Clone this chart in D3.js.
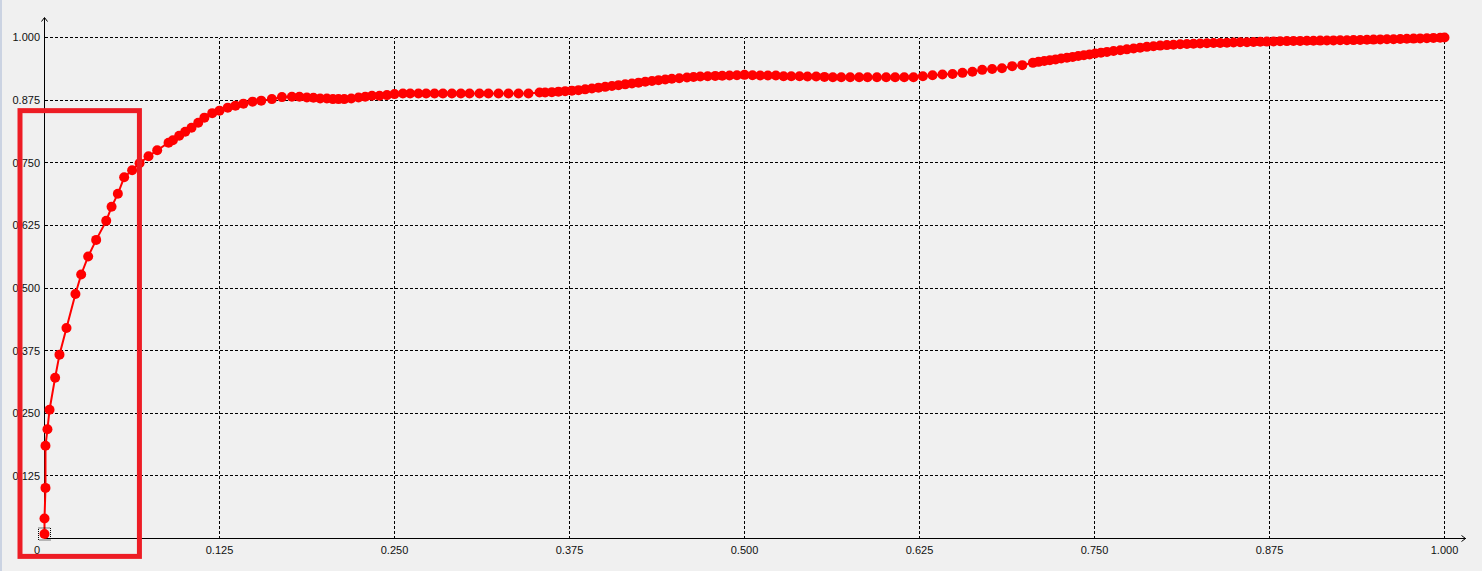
<!DOCTYPE html>
<html><head><meta charset="utf-8">
<script src="https://cdn.jsdelivr.net/npm/d3@7"></script>
<style>html,body{margin:0;padding:0;background:#f0f0f0;overflow:hidden}</style>
</head><body><svg id="c" width="1482" height="571"></svg>
<script>
const xTicks = [0.125, 0.25, 0.375, 0.5, 0.625, 0.75, 0.875, 1.0];
const xTickLabels = ["0.125", "0.250", "0.375", "0.500", "0.625", "0.750", "0.875", "1.000"];
const yTicks = [0.125, 0.25, 0.375, 0.5, 0.625, 0.75, 0.875, 1.0];
const yTickLabels = ["0.125", "0.250", "0.375", "0.500", "0.625", "0.750", "0.875", "1.000"];
const originLabel = "0";

const xValues = [
  0.0000, 0.0000, 0.0007, 0.0007, 0.0021, 0.0036, 0.0076, 0.0107, 0.0157, 0.0221, 0.0262, 0.0312, 0.0369, 0.0441, 0.0479, 0.0524, 0.0569, 0.0626, 0.0679, 0.0743, 0.0805, 0.0886, 0.0917, 0.0962, 0.1005, 0.1050, 0.1098, 0.1142, 0.1198, 0.1250, 0.1309, 0.1364, 0.1421, 0.1486, 0.1548, 0.1624, 0.1696,
  0.1767, 0.1821, 0.1874, 0.1921, 0.1969, 0.2017, 0.2060, 0.2100, 0.2141, 0.2191, 0.2243, 0.2291, 0.2339, 0.2393, 0.2446, 0.2500, 0.2560, 0.2612, 0.2671, 0.2726, 0.2786, 0.2846, 0.2910, 0.2974, 0.3036, 0.3107, 0.3171, 0.3243, 0.3314, 0.3386, 0.3457, 0.3536, 0.3576,
  0.3624, 0.3671, 0.3719, 0.3767, 0.3814, 0.3862, 0.3910, 0.3957, 0.4005, 0.4053, 0.4100, 0.4148, 0.4196, 0.4243, 0.4291, 0.4339, 0.4386, 0.4434, 0.4481, 0.4534, 0.4589, 0.4636, 0.4684, 0.4737, 0.4791, 0.4841, 0.4893, 0.4946, 0.5000, 0.5057, 0.5112,
  0.5167, 0.5224, 0.5279, 0.5334, 0.5393, 0.5450, 0.5512, 0.5571, 0.5631, 0.5691, 0.5755, 0.5819, 0.5879, 0.5946, 0.6012, 0.6076, 0.6141, 0.6207,
  0.6274, 0.6343, 0.6414, 0.6486, 0.6557, 0.6628, 0.6698, 0.6769, 0.6839, 0.6912, 0.6984, 0.7060,
  0.7100, 0.7141, 0.7181, 0.7222, 0.7262, 0.7303, 0.7344, 0.7384, 0.7424, 0.7465, 0.7505, 0.7546, 0.7589,
  0.7636, 0.7684, 0.7731, 0.7779, 0.7826, 0.7874, 0.7921, 0.7969, 0.8017, 0.8064, 0.8112, 0.8160, 0.8207, 0.8255, 0.8303, 0.8350, 0.8398, 0.8446, 0.8493, 0.8541, 0.8589, 0.8636, 0.8684, 0.8731, 0.8779, 0.8826, 0.8874, 0.8921, 0.8969, 0.9017, 0.9064, 0.9112, 0.9160, 0.9207, 0.9255, 0.9303, 0.9350, 0.9398, 0.9446, 0.9493, 0.9541, 0.9589, 0.9636, 0.9684, 0.9731, 0.9779, 0.9826, 0.9874, 0.9921, 0.9969, 1.0000
];
const yValues = [
  0.009, 0.040, 0.101, 0.185, 0.218, 0.257, 0.321, 0.367, 0.420, 0.488, 0.527, 0.563, 0.596, 0.634, 0.662, 0.688, 0.721, 0.735, 0.749, 0.763, 0.775, 0.790, 0.795, 0.804, 0.812, 0.820, 0.830, 0.840, 0.849, 0.854, 0.860, 0.864, 0.868, 0.872, 0.874, 0.877, 0.881,
  0.8816, 0.8816, 0.8804, 0.8797, 0.8784, 0.8784, 0.8770, 0.8770, 0.8770, 0.8784, 0.8804, 0.8816, 0.8836, 0.8836, 0.8850, 0.8870, 0.8883, 0.8883, 0.8883, 0.8883, 0.8883, 0.8883, 0.8883, 0.8883, 0.8883, 0.8883, 0.8883, 0.8883, 0.8883, 0.8883, 0.8883, 0.8903, 0.8903,
  0.8909, 0.8919, 0.8929, 0.8939, 0.8949, 0.8965, 0.8983, 0.8999, 0.9015, 0.9033, 0.9049, 0.9065, 0.9083, 0.9099, 0.9115, 0.9133, 0.9149, 0.9163, 0.9175, 0.9188, 0.9202, 0.9212, 0.9222, 0.9228, 0.9234, 0.9238, 0.9242, 0.9248, 0.9254, 0.9248, 0.9242,
  0.9242, 0.9242, 0.9228, 0.9228, 0.9228, 0.9222, 0.9222, 0.9214, 0.9208, 0.9208, 0.9208, 0.9208, 0.9208, 0.9208, 0.9208, 0.9208, 0.9208, 0.9208,
  0.9228, 0.9248, 0.9262, 0.9272, 0.9294, 0.9318, 0.9354, 0.9372, 0.9388, 0.9428, 0.9448, 0.9494,
  0.9514, 0.9530, 0.9547, 0.9563, 0.9581, 0.9597, 0.9613, 0.9631, 0.9647, 0.9663, 0.9681, 0.9697, 0.9713,
  0.9731, 0.9747, 0.9763, 0.9781, 0.9797, 0.9813, 0.9827, 0.9838, 0.9848, 0.9856, 0.9864, 0.9870, 0.9876, 0.9882, 0.9886, 0.9890, 0.9892, 0.9896, 0.9900, 0.9904, 0.9906, 0.9910, 0.9914, 0.9918, 0.9922, 0.9926, 0.9928, 0.9930, 0.9932, 0.9934, 0.9936, 0.9938, 0.9940, 0.9942, 0.9944, 0.9946, 0.9948, 0.9950, 0.9954, 0.9958, 0.9962, 0.9964, 0.9966, 0.9970, 0.9974, 0.9978, 0.9982, 0.9986, 0.9992, 0.9996, 1.0000
];
// highlight annotation rectangle (data units)
const highlightX = [-0.0175, 0.0678];
const highlightY = [-0.0357, 0.854];

const points = xValues.map((x, i) => ({x, y: yValues[i]}));

const svg = d3.select("#c");
const x = d3.scaleLinear().domain([0, 1]).range([44.5, 1444.5]);
const y = d3.scaleLinear().domain([0, 1]).range([538.5, 37.5]);

svg.append("rect").attr("width", 1482).attr("height", 571).attr("fill", "#f0f0f0");
svg.append("rect").attr("x", 0).attr("y", 0).attr("width", 2).attr("height", 571).attr("fill", "#cbd3e2");

const font = "'Liberation Sans', Arial, sans-serif";

// grid
const grid = svg.append("g").attr("stroke", "#000").attr("stroke-width", 1).attr("stroke-dasharray", "3,2").attr("shape-rendering", "crispEdges");
grid.selectAll("line.h").data(yTicks).join("line")
  .attr("x1", x(0)).attr("x2", x(1)).attr("y1", d => y(d)).attr("y2", d => y(d));
grid.selectAll("line.v").data(xTicks).join("line")
  .attr("y1", y(0)).attr("y2", y(1)).attr("x1", d => x(d)).attr("x2", d => x(d));

// axes
const ax = svg.append("g").attr("stroke", "#000").attr("stroke-width", 1).attr("fill", "none");
ax.append("line").attr("x1", x(0)).attr("x2", x(0)).attr("y1", y(0)).attr("y2", y(1) - 20).attr("shape-rendering", "crispEdges");
ax.append("line").attr("x1", x(0)).attr("x2", x(1) + 21).attr("y1", y(0)).attr("y2", y(0)).attr("shape-rendering", "crispEdges");
ax.append("path").attr("d", `M${x(0)-3},${y(1)-16} L${x(0)},${y(1)-20} L${x(0)+3},${y(1)-16}`);
ax.append("path").attr("d", `M${x(1)+17},${y(0)-3} L${x(1)+21},${y(0)} L${x(1)+17},${y(0)+3}`);

// tick labels
svg.append("g").selectAll("text").data(yTicks).join("text")
  .attr("x", x(0) - 4.5).attr("y", d => y(d)).attr("dy", "0.36em")
  .attr("text-anchor", "end").attr("font-family", font).attr("font-size", 11).attr("fill", "#111")
  .text((d, i) => yTickLabels[i]);
svg.append("g").selectAll("text").data(xTicks).join("text")
  .attr("x", d => x(d)).attr("y", y(0) + 15)
  .attr("text-anchor", "middle").attr("font-family", font).attr("font-size", 11).attr("fill", "#111")
  .text((d, i) => xTickLabels[i]);
svg.append("text").attr("x", x(0) - 7.5).attr("y", y(0) + 15)
  .attr("text-anchor", "middle").attr("font-family", font).attr("font-size", 11).attr("fill", "#111")
  .text(originLabel);

// series line
const line = d3.line().x(d => x(d.x)).y(d => y(d.y));
svg.append("path").datum(points).attr("d", line)
  .attr("fill", "none").attr("stroke", "#ff0000").attr("stroke-width", 2);
svg.append("g").selectAll("circle").data(points).join("circle")
  .attr("cx", d => x(d.x)).attr("cy", d => y(d.y)).attr("r", 5).attr("fill", "#ff0000");

// selection marker around first point
svg.append("rect")
  .attr("x", x(points[0].x) - 6).attr("y", y(points[0].y) - 6).attr("width", 12).attr("height", 12)
  .attr("fill", "none").attr("stroke", "#000").attr("stroke-width", 1).attr("stroke-dasharray", "1,1");

// highlight box
svg.append("rect")
  .attr("x", x(highlightX[0])).attr("y", y(highlightY[1]))
  .attr("width", x(highlightX[1]) - x(highlightX[0]))
  .attr("height", y(highlightY[0]) - y(highlightY[1]))
  .attr("fill", "none").attr("stroke", "#ed1c24").attr("stroke-width", 5);
</script>
</body></html>
